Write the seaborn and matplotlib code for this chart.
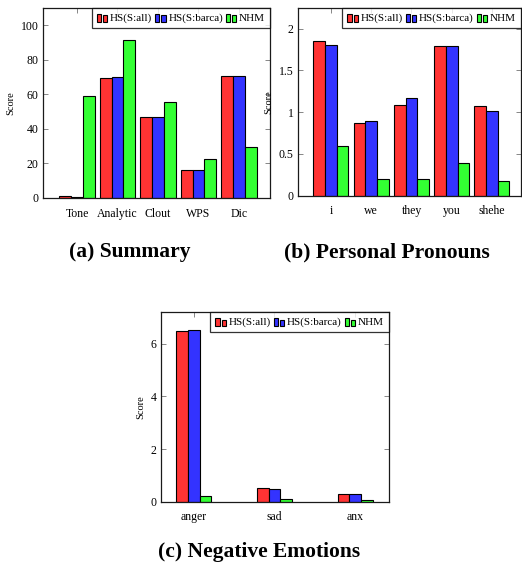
"""Three grouped bar panels: LIWC summary, pronouns and negative emotions."""
import matplotlib
matplotlib.use("Agg")
import matplotlib.pyplot as plt
import matplotlib.patches as mpatches
from matplotlib.legend_handler import HandlerBase
from matplotlib.ticker import FuncFormatter
import pandas as pd
import seaborn as sns

SERIES = ["HS(S:all)", "HS(S:barca)", "NHM"]
COLORS = ["#ff3333", "#3333ff", "#33ff33"]

summary_cats = ["Tone", "Analytic", "Clout", "WPS", "Dic"]
summary_all = [0.9, 69.4, 46.7, 16.2, 70.3]
summary_barca = [0.8, 70.0, 47.1, 16.2, 70.3]
summary_nhm = [59.1, 91.3, 55.8, 22.5, 29.6]

pron_cats = ["i", "we", "they", "you", "shehe"]
pron_all = [1.85, 0.87, 1.09, 1.79, 1.08]
pron_barca = [1.81, 0.90, 1.17, 1.79, 1.02]
pron_nhm = [0.60, 0.20, 0.20, 0.39, 0.18]

neg_cats = ["anger", "sad", "anx"]
neg_all = [6.49, 0.53, 0.30]
neg_barca = [6.54, 0.48, 0.29]
neg_nhm = [0.20, 0.10, 0.06]


def long_frame(cats, *series):
    rows = []
    for name, vals in zip(SERIES, series):
        for c, v in zip(cats, vals):
            rows.append({"cat": c, "series": name, "score": v})
    return pd.DataFrame(rows)


class BarPairHandler(HandlerBase):
    """pgfplots-style ybar legend image: two little bars."""

    def create_artists(self, legend, orig_handle, xdescent, ydescent,
                       width, height, fontsize, trans):
        fc = orig_handle.get_facecolor()
        w = width * 0.38
        r1 = mpatches.Rectangle((-xdescent, -ydescent - 1), w, height * 1.1,
                                fc=fc, ec="black", lw=0.8, transform=trans)
        r2 = mpatches.Rectangle((-xdescent + width * 0.58, -ydescent - 1), w,
                                height * 0.85, fc=fc, ec="black", lw=0.8,
                                transform=trans)
        return [r1, r2]


def fmt_num(v, _pos):
    return f"{v:g}"


sns.set_theme(style="ticks")
plt.rcParams["font.family"] = ["Liberation Serif", "DejaVu Serif"]
plt.rcParams["axes.linewidth"] = 0.9
plt.rcParams["text.color"] = "black"
plt.rcParams["axes.labelcolor"] = "black"
plt.rcParams["xtick.labelcolor"] = "black"
plt.rcParams["ytick.labelcolor"] = "black"

fig = plt.figure(figsize=(5.22, 5.64), dpi=100)

panels = [
    # data, rect, width, xlim, ylim, yticks
    (long_frame(summary_cats, summary_all, summary_barca, summary_nhm),
     [0.0824, 0.649, 0.435, 0.337], 0.87, (-0.84, 4.77), (0, 110),
     [0, 20, 40, 60, 80, 100]),
    (long_frame(pron_cats, pron_all, pron_barca, pron_nhm),
     [0.570, 0.653, 0.428, 0.333], 0.87, (-0.83, 4.72), (0, 2.25),
     [0, 0.5, 1, 1.5, 2]),
    (long_frame(neg_cats, neg_all, neg_barca, neg_nhm),
     [0.308, 0.1105, 0.437, 0.336], 0.434, (-0.41, 2.42), (0, 7.2),
     [0, 2, 4, 6]),
]

handles = [mpatches.Patch(facecolor=c, edgecolor="black") for c in COLORS]

for df, rect, width, xlim, ylim, yticks in panels:
    ax = fig.add_axes(rect)
    sns.barplot(data=df, x="cat", y="score", hue="series", hue_order=SERIES,
                palette=COLORS, saturation=1, width=width, gap=0,
                edgecolor="black", linewidth=0.8, legend=False, ax=ax)
    ax.set_xlim(*xlim)
    ax.set_ylim(*ylim)
    ax.set_yticks(yticks)
    ax.yaxis.set_major_formatter(FuncFormatter(fmt_num))
    ax.set_xlabel("")
    ax.set_ylabel("Score", fontsize=7.5, labelpad=4)
    ax.tick_params(axis="both", direction="in", length=3.5, width=0.6,
                   color="0.45", labelsize=8.5, pad=3)
    ax.tick_params(axis="x", top=True, bottom=False, pad=7)
    ax.tick_params(axis="y", right=True)
    for s in ax.spines.values():
        s.set_visible(True)
        s.set_color("0.1")
    leg = ax.legend(handles, SERIES, handler_map={mpatches.Patch: BarPairHandler()},
                    loc="upper right", ncol=3, fontsize=8, frameon=True,
                    fancybox=False, borderaxespad=0, handlelength=1.0,
                    handleheight=0.7, handletextpad=0.2, columnspacing=0.25,
                    borderpad=0.45)
    leg.get_frame().set_edgecolor("black")
    leg.get_frame().set_linewidth(0.9)

fig.text(130 / 522, 1 - 252 / 564, "(a) Summary", ha="center", va="center",
         fontsize=15.5, fontweight="bold")
fig.text(387 / 522, 1 - 252 / 564, "(b) Personal Pronouns", ha="center",
         va="center", fontsize=15.5, fontweight="bold")
fig.text(259 / 522, 1 - 552 / 564, "(c) Negative Emotions", ha="center",
         va="center", fontsize=15.5, fontweight="bold")

fig.savefig("out.png", dpi=100)
